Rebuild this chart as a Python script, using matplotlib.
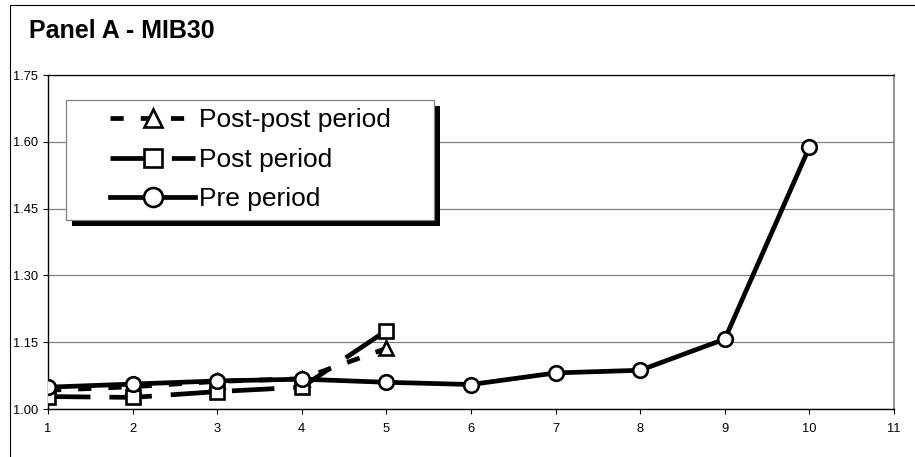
import matplotlib
matplotlib.use("Agg")
import matplotlib.pyplot as plt
from matplotlib.patches import Rectangle
from matplotlib.transforms import IdentityTransform
from matplotlib.legend_handler import HandlerLine2D
from matplotlib.lines import Line2D

plt.rcParams['font.family'] = ['Liberation Sans', 'DejaVu Sans']

# ---- data ----
title = "Panel A - MIB30"
x_categories = [1, 2, 3, 4, 5, 6, 7, 8, 9, 10, 11]
pre_x = [1, 2, 3, 4, 5, 6, 7, 8, 9, 10]
pre_values = [1.049, 1.056, 1.063, 1.067, 1.060, 1.055, 1.081, 1.087, 1.157, 1.588]
post_x = [1, 2, 3, 4, 5]
post_values = [1.028, 1.026, 1.039, 1.049, 1.176]
postpost_x = [1, 2, 3, 4, 5]
postpost_values = [1.042, 1.050, 1.062, 1.068, 1.136]
y_ticks = [1.00, 1.15, 1.30, 1.45, 1.60, 1.75]
series_labels = ["Post-post period", "Post period", "Pre period"]

W, H = 915, 457
fig = plt.figure(figsize=(W / 100, H / 100), dpi=100)
ax = fig.add_axes([48 / W, 1 - 409 / H, 846 / W, 334 / H])

lw = 3.4
ms = 10
mew = 1.9

l_pp, = ax.plot(postpost_x, postpost_values, color='black', lw=lw,
                dashes=(2.8, 3.6), marker='^', ms=ms, mfc='white', mec='black',
                mew=mew, zorder=2, label=series_labels[0])
l_p, = ax.plot(post_x, post_values, color='black', lw=lw,
               dashes=(9, 4), marker='s', ms=ms, mfc='white', mec='black',
               mew=mew, zorder=3, label=series_labels[1])
l_pre, = ax.plot(pre_x, pre_values, color='black', lw=lw, ls='-',
                 marker='o', ms=10.5, mfc='white', mec='black', mew=mew,
                 zorder=4, label=series_labels[2])

ax.set_xlim(1, 11)
ax.set_ylim(1.00, 1.75)
ax.set_xticks(x_categories)
ax.set_xticklabels([str(c) for c in x_categories])
ax.set_yticks(y_ticks)
ax.set_yticklabels([f"{v:.2f}" for v in y_ticks])
ax.tick_params(axis='both', direction='out', length=3.6, width=0.8,
               labelsize=9.3, colors='black', pad=3.5)
ax.tick_params(axis='x', pad=6.5)

ax.set_axisbelow(True)
ax.yaxis.grid(True, color='#808080', lw=0.9)
ax.xaxis.grid(False)
for s in ['left', 'bottom']:
    ax.spines[s].set_color('black')
    ax.spines[s].set_linewidth(1.0)
ax.spines['top'].set_color('black')
ax.spines['top'].set_linewidth(0.9)
ax.spines['right'].set_color('#808080')
ax.spines['right'].set_linewidth(1.2)

# legend
fs = 19
fs_px = fs * 100 / 72
b = 0.32
x0_px, x1_px, ytop_px = 66, 434, 100
start = x0_px + b * fs_px
xpad = (110 - start) / fs_px
hlen = (195 - start) / fs_px
ax_w, ax_h = 846, 334
bx0 = (x0_px - 48) / ax_w
bw = (x1_px - x0_px) / ax_w
btop = (409 - ytop_px) / ax_h
handler = HandlerLine2D(xpad=xpad)
leg = ax.legend(handles=[l_pp, l_p, l_pre], loc='upper left',
                bbox_to_anchor=(bx0, 0.3, bw, btop - 0.3), mode='expand',
                borderaxespad=0, borderpad=b, fontsize=fs,
                handlelength=hlen, handletextpad=0.15, labelspacing=0.58,
                markerscale=1.3, fancybox=False, framealpha=1,
                edgecolor='#808080', facecolor='white',
                handler_map={Line2D: handler})
leg.get_frame().set_linewidth(0.9)
leg.set_zorder(6)

fig.canvas.draw()
bb = leg.get_window_extent()
shadow = Rectangle((bb.x0 + 6, bb.y0 - 6), bb.width, bb.height,
                   transform=IdentityTransform(), facecolor='black',
                   edgecolor='none', zorder=5.5, clip_on=False)
ax.add_patch(shadow)

fig.text(29 / W, 1 - 37.7 / H, title, fontsize=18, fontweight='bold',
         ha='left', va='baseline')

border = Rectangle((10 / W, -0.1), 1.2, 1.1 - 5 / H, transform=fig.transFigure,
                   fill=False, edgecolor='black', lw=0.8)
fig.add_artist(border)

fig.savefig("out.png", dpi=100)
